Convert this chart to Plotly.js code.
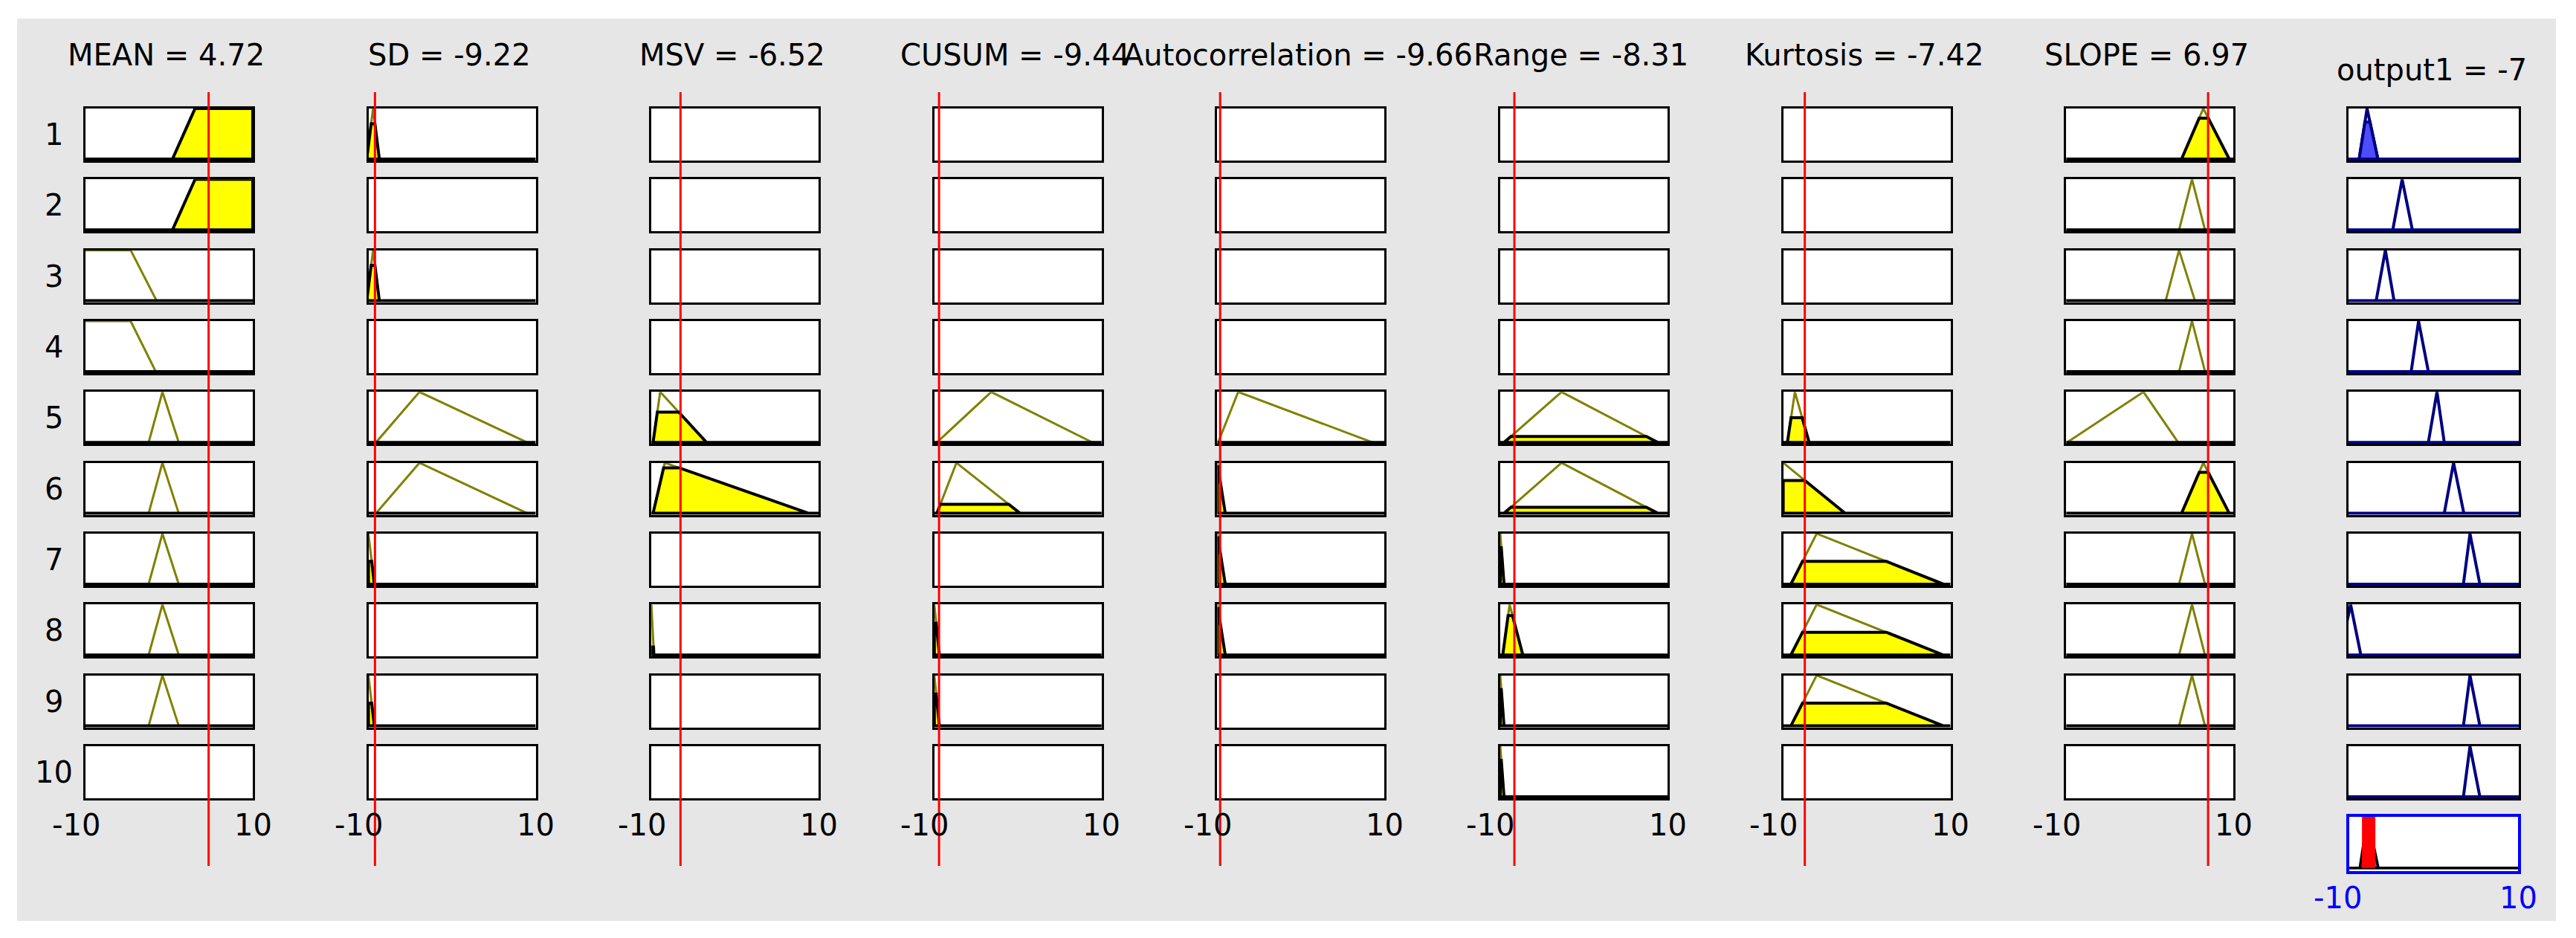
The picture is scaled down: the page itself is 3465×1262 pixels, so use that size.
<!DOCTYPE html>
<html>
<head>
<meta charset="utf-8">
<script src="https://cdn.plot.ly/plotly-3.0.1.min.js"></script>
<style>html,body{margin:0;padding:0;background:#fff;}#chart{width:3465px;height:1262px;}</style>
</head>
<body>
<div id="chart"></div>
<script>
// ---------------- data ----------------
const inputNames  = ['MEAN', 'SD', 'MSV', 'CUSUM', 'Autocorrelation', 'Range', 'Kurtosis', 'SLOPE'];
const inputValues = [4.72, -9.22, -6.52, -9.44, -9.66, -8.31, -7.42, 6.97];
const outputName  = 'output1';
const outputValue = -7;        // value printed in the title
const outputBarValue = -7.7;   // position of the red bar
const ruleLabels  = ['1', '2', '3', '4', '5', '6', '7', '8', '9', '10'];
const tickLabels  = ['-10', '10'];
const xRange      = [-10, 10];

// membership functions per rule: [x vertices, y vertices]; null = input not used in the rule
const mfMEAN = [
  [[0.4, 3.1, 10], [0, 1, 1]],
  [[0.4, 3.1, 10], [0, 1, 1]],
  [[-10, -4.6, -1.5], [1, 1, 0]],
  [[-10, -4.6, -1.6], [1, 1, 0]],
  [[-2.45, -0.8, 1.15], [0, 1, 0]],
  [[-2.45, -0.8, 1.15], [0, 1, 0]],
  [[-2.45, -0.8, 1.15], [0, 1, 0]],
  [[-2.45, -0.8, 1.15], [0, 1, 0]],
  [[-2.45, -0.8, 1.15], [0, 1, 0]],
  null
];
const fireMEAN = [1, 1, 0, 0, 0, 0, 0, 0, 0, 0];

const mfSD = [
  [[-10.2, -9.45, -8.7], [0, 1, 0]],
  null,
  [[-10.2, -9.45, -8.7], [0, 1, 0]],
  null,
  [[-9.1, -3.9, 9.0], [0, 1, 0]],
  [[-9.1, -3.9, 9.0], [0, 1, 0]],
  [[-10, -9.3], [1, 0]],
  null,
  [[-10, -9.3], [1, 0]],
  null
];
const fireSD = [0.7, 0, 0.7, 0, 0, 0, 0.45, 0, 0.45, 0];

const mfMSV = [
  null, null, null, null,
  [[-9.8, -8.95, -3.4], [0, 1, 0]],
  [[-9.8, -8.4, 8.8], [0, 1, 0]],
  null,
  [[-10, -9.7], [1, 0]],
  null, null
];
const fireMSV = [0, 0, 0, 0, 0.6, 0.9, 0, 0.16, 0, 0];

const mfCUSUM = [
  null, null, null, null,
  [[-9.7, -3.2, 8.9], [0, 1, 0]],
  [[-9.7, -7.36, 0.26], [0, 1, 0]],
  null,
  [[-10, -9.4], [1, 0]],
  [[-10, -9.4], [1, 0]],
  null
];
const fireCUSUM = [0, 0, 0, 0, 0, 0.18, 0, 0.63, 0.63, 0];

const mfAutocorrelation = [
  null, null, null, null,
  [[-9.9, -7.5, 8.6], [0, 1, 0]],
  [[-10, -9.05], [1, 0]],
  [[-10, -9.05], [1, 0]],
  [[-10, -9.05], [1, 0]],
  null, null
];
const fireAutocorrelation = [0, 0, 0, 0, 0, 0.92, 0.92, 0.92, 0, 0];

const mfRange = [
  null, null, null, null,
  [[-9.55, -2.67, 8.85], [0, 1, 0]],
  [[-9.55, -2.67, 8.85], [0, 1, 0]],
  [[-10, -9.55], [1, 0]],
  [[-9.7, -8.88, -7.3], [0, 1, 0]],
  [[-10, -9.55], [1, 0]],
  [[-10, -9.55], [1, 0]]
];
const fireRange = [0, 0, 0, 0, 0.12, 0.12, 0.72, 0.78, 0.72, 0.72];

const mfKurtosis = [
  null, null, null, null,
  [[-9.5, -8.6, -6.9], [0, 1, 0]],
  [[-10, -2.6], [1, 0]],
  [[-9.08, -6.0, 9.16], [0, 1, 0]],
  [[-9.08, -6.0, 9.16], [0, 1, 0]],
  [[-9.08, -6.0, 9.16], [0, 1, 0]],
  null
];
const fireKurtosis = [0, 0, 0, 0, 0.49, 0.65, 0.45, 0.45, 0.45, 0];

const mfSLOPE = [
  [[3.8, 6.4, 9.5], [0, 1, 0]],
  [[3.5, 5.05, 6.6], [0, 1, 0]],
  [[1.9, 3.5, 5.4], [0, 1, 0]],
  [[3.5, 5.05, 6.6], [0, 1, 0]],
  [[-9.9, -0.75, 3.4], [0, 1, 0]],
  [[3.8, 6.4, 9.5], [0, 1, 0]],
  [[3.5, 5.05, 6.6], [0, 1, 0]],
  [[3.5, 5.05, 6.6], [0, 1, 0]],
  [[3.5, 5.05, 6.6], [0, 1, 0]],
  null
];
const fireSLOPE = [0.81, 0, 0, 0, 0, 0.81, 0, 0, 0, 0];

const mfOutput = [
  [[-8.75, -7.82, -6.55], [0, 1, 0]],
  [[-4.8, -3.7, -2.5], [0, 1, 0]],
  [[-6.75, -5.67, -4.65], [0, 1, 0]],
  [[-2.64, -1.77, -0.62], [0, 1, 0]],
  [[-0.62, 0.39, 1.25], [0, 1, 0]],
  [[1.25, 2.34, 3.55], [0, 1, 0]],
  [[3.5, 4.27, 5.43], [0, 1, 0]],
  [[-11, -9.75, -8.55], [0, 1, 0]],
  [[3.5, 4.27, 5.43], [0, 1, 0]],
  [[3.5, 4.27, 5.43], [0, 1, 0]]
];
const fireOutput = [0.73, 0, 0, 0, 0, 0, 0, 0, 0, 0];

// ---------------- layout geometry (pixels) ----------------
const W = 3465, H = 1262;
const FONT = 'DejaVu Sans';
const FS = 40;
const colLeft0 = 112, colPitch = 380.6, boxW = 231;
const rowTop0 = 143, rowPitch = 95.33, boxH = 76;
const outLeft = 3156, outW = 235;
const aggTop = 1095, aggH = 81;
const BW = 3;

const X = p => p / W;
const Y = p => 1 - p / H;

const columns = [
  {mf: mfMEAN, fire: fireMEAN},
  {mf: mfSD, fire: fireSD},
  {mf: mfMSV, fire: fireMSV},
  {mf: mfCUSUM, fire: fireCUSUM},
  {mf: mfAutocorrelation, fire: fireAutocorrelation},
  {mf: mfRange, fire: fireRange},
  {mf: mfKurtosis, fire: fireKurtosis},
  {mf: mfSLOPE, fire: fireSLOPE}
];

const layout = {
  width: W, height: H,
  margin: {l: 0, r: 0, t: 0, b: 0},
  paper_bgcolor: '#e6e6e6',
  plot_bgcolor: '#ffffff',
  showlegend: false,
  font: {family: FONT, size: FS, color: '#000000'},
  shapes: [],
  annotations: []
};
const traces = [];

let nAx = 0;
function addAxis(left, top, w, h, lw, yr, lc) {
  nAx++;
  const s = nAx === 1 ? '' : String(nAx);
  const common = {showgrid: false, zeroline: false, showticklabels: false, ticks: '',
                  showline: true, mirror: true, linecolor: lc, linewidth: lw, fixedrange: true};
  layout['xaxis' + s] = Object.assign({domain: [X(left + lw), X(left + w - lw)], range: xRange.slice(), anchor: 'y' + s}, common);
  layout['yaxis' + s] = Object.assign({domain: [Y(top + h - lw), Y(top + lw)], range: yr, anchor: 'x' + s}, common);
  // invisible placeholder so that every box is drawn, even when the rule does not use the input
  traces.push({type: 'scatter', mode: 'markers', x: [xRange[0]], y: [yr[0] - 1], xaxis: 'x' + s, yaxis: 'y' + s,
               marker: {opacity: 0}, hoverinfo: 'skip'});
  return s;
}

function clipPoly(xs, ys, h) {
  const px = [xRange[0]], py = [0];
  for (let i = 0; i < xs.length; i++) {
    if (i > 0) {
      const y0 = ys[i - 1], y1 = ys[i];
      if ((y0 - h) * (y1 - h) < 0) {
        const t = (h - y0) / (y1 - y0);
        px.push(xs[i - 1] + t * (xs[i] - xs[i - 1])); py.push(h);
      }
    }
    px.push(xs[i]); py.push(Math.min(ys[i], h));
  }
  px.push(xRange[1]); py.push(0);
  px.push(xRange[0]); py.push(0);
  return [px, py];
}

function addMF(s, mf, fire, lineColor, edgeColor, fillColor, lineW) {
  traces.push({type: 'scatter', mode: 'lines', x: mf[0], y: mf[1], xaxis: 'x' + s, yaxis: 'y' + s,
               line: {color: lineColor, width: lineW}, hoverinfo: 'skip'});
  const p = clipPoly(mf[0], mf[1], fire);
  traces.push({type: 'scatter', mode: 'lines', x: p[0], y: p[1], xaxis: 'x' + s, yaxis: 'y' + s,
               fill: 'toself', fillcolor: fillColor, line: {color: edgeColor, width: 4}, hoverinfo: 'skip'});
}

const yrIn = [-0.03, 1.0];

// input columns
columns.forEach((col, c) => {
  const left = colLeft0 + c * colPitch;
  let firstS = null, lastS = null;
  for (let r = 0; r < ruleLabels.length; r++) {
    const top = rowTop0 + r * rowPitch;
    const s = addAxis(left, top, boxW, boxH, BW, yrIn, '#000000');
    if (r === 0) firstS = s;
    lastS = s;
    if (col.mf[r]) addMF(s, col.mf[r], col.fire[r], '#808000', '#000000', '#ffff00', 3);
  }
  // column title
  layout.annotations.push({xref: 'paper', yref: 'paper', x: X(left + boxW / 2 - 4), y: Y(74),
    text: inputNames[c] + ' = ' + inputValues[c], showarrow: false, xanchor: 'center', yanchor: 'middle',
    font: {family: FONT, size: FS, color: '#000000'}});
  // tick labels
  layout.annotations.push({xref: 'x' + lastS, yref: 'paper', x: xRange[0], y: Y(1110), text: tickLabels[0],
    showarrow: false, xanchor: 'center', yanchor: 'middle', xshift: -13, font: {family: FONT, size: FS, color: '#000000'}});
  layout.annotations.push({xref: 'x' + lastS, yref: 'paper', x: xRange[1], y: Y(1110), text: tickLabels[1],
    showarrow: false, xanchor: 'center', yanchor: 'middle', font: {family: FONT, size: FS, color: '#000000'}});
  // red input line
  layout.shapes.push({type: 'line', xref: 'x' + firstS, yref: 'paper', x0: inputValues[c], x1: inputValues[c],
    y0: Y(1165), y1: Y(124), line: {color: '#ff0000', width: 3}, layer: 'above'});
});

// output column
for (let r = 0; r < ruleLabels.length; r++) {
  const top = rowTop0 + r * rowPitch;
  const s = addAxis(outLeft, top, outW, boxH, BW, yrIn, '#000000');
  addMF(s, mfOutput[r], fireOutput[r], '#000080', '#000080', '#4d4dff', 4);
}
layout.annotations.push({xref: 'paper', yref: 'paper', x: X(outLeft + outW / 2 - 3), y: Y(94),
  text: outputName + ' = ' + outputValue, showarrow: false, xanchor: 'center', yanchor: 'middle',
  font: {family: FONT, size: FS, color: '#000000'}});

// aggregate box
const sAgg = addAxis(outLeft, aggTop, outW, aggH, 4, [-0.06, 1.0], '#0000ff');
for (let r = 0; r < ruleLabels.length; r++) {
  if (fireOutput[r] > 0) {
    const p = clipPoly(mfOutput[r][0], mfOutput[r][1], fireOutput[r]);
    traces.push({type: 'scatter', mode: 'lines', x: p[0], y: p[1], xaxis: 'x' + sAgg, yaxis: 'y' + sAgg,
      fill: 'toself', fillcolor: '#4d4dff', line: {color: '#000000', width: 3.5}, hoverinfo: 'skip'});
  }
}
traces.push({type: 'scatter', mode: 'lines', x: xRange.slice(), y: [0, 0], xaxis: 'x' + sAgg, yaxis: 'y' + sAgg,
  line: {color: '#000000', width: 3}, hoverinfo: 'skip'});
traces.push({type: 'scatter', mode: 'lines', x: [outputBarValue, outputBarValue], y: [0, 1], xaxis: 'x' + sAgg, yaxis: 'y' + sAgg,
  line: {color: '#ff0000', width: 18}, hoverinfo: 'skip'});
layout.annotations.push({xref: 'x' + sAgg, yref: 'paper', x: xRange[0], y: Y(1208), text: tickLabels[0],
  showarrow: false, xanchor: 'center', yanchor: 'middle', xshift: -16, font: {family: FONT, size: FS, color: '#0000ff'}});
layout.annotations.push({xref: 'x' + sAgg, yref: 'paper', x: xRange[1], y: Y(1208), text: tickLabels[1],
  showarrow: false, xanchor: 'center', yanchor: 'middle', font: {family: FONT, size: FS, color: '#0000ff'}});

// rule numbers
ruleLabels.forEach((lab, r) => {
  layout.annotations.push({xref: 'paper', yref: 'paper', x: X(72), y: Y(rowTop0 + r * rowPitch + boxH / 2),
    text: lab, showarrow: false, xanchor: 'center', yanchor: 'middle', font: {family: FONT, size: FS, color: '#000000'}});
});

// white frame around the grey panel
[[0, 0, W, 25], [0, 1239, W, H], [0, 0, 23, H], [3438, 0, W, H]].forEach(b => {
  layout.shapes.push({type: 'rect', xref: 'paper', yref: 'paper', x0: X(b[0]), x1: X(b[2]), y0: Y(b[3]), y1: Y(b[1]),
    fillcolor: '#ffffff', line: {width: 0}, layer: 'below'});
});

Plotly.newPlot('chart', traces, layout, {staticPlot: true, displayModeBar: false});
</script>
</body>
</html>
